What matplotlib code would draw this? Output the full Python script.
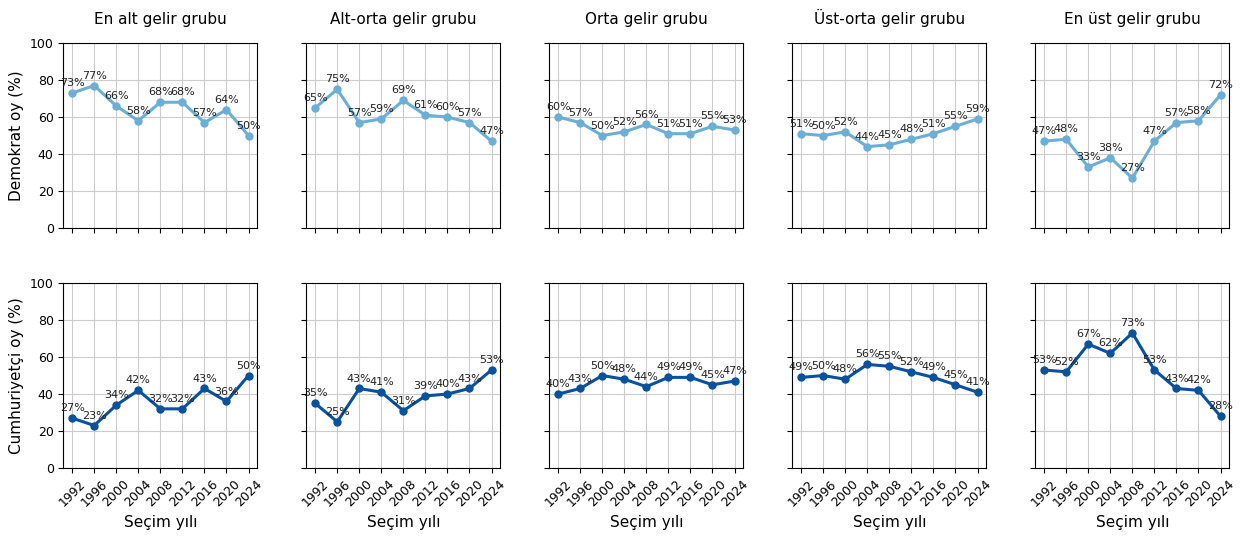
import matplotlib
matplotlib.use("Agg")
import matplotlib.pyplot as plt

# election years and income groups
years = [1992, 1996, 2000, 2004, 2008, 2012, 2016, 2020, 2024]
groups = ["En alt gelir grubu", "Alt-orta gelir grubu", "Orta gelir grubu",
          "Üst-orta gelir grubu", "En üst gelir grubu"]

# Democrat vote share (%) per group
dem_lowest = [73, 77, 66, 58, 68, 68, 57, 64, 50]
dem_lowmid = [65, 75, 57, 59, 69, 61, 60, 57, 47]
dem_mid = [60, 57, 50, 52, 56, 51, 51, 55, 53]
dem_upmid = [51, 50, 52, 44, 45, 48, 51, 55, 59]
dem_top = [47, 48, 33, 38, 27, 47, 57, 58, 72]

# Republican vote share (%) per group
rep_lowest = [27, 23, 34, 42, 32, 32, 43, 36, 50]
rep_lowmid = [35, 25, 43, 41, 31, 39, 40, 43, 53]
rep_mid = [40, 43, 50, 48, 44, 49, 49, 45, 47]
rep_upmid = [49, 50, 48, 56, 55, 52, 49, 45, 41]
rep_top = [53, 52, 67, 62, 73, 53, 43, 42, 28]

dem = [dem_lowest, dem_lowmid, dem_mid, dem_upmid, dem_top]
rep = [rep_lowest, rep_lowmid, rep_mid, rep_upmid, rep_top]

dem_color = "#6baed6"
rep_color = "#08519c"

fig, axes = plt.subplots(2, 5, figsize=(12.43, 5.38), dpi=100, sharey=True)
fig.subplots_adjust(left=0.051, right=0.989, top=0.92, bottom=0.13,
                    wspace=0.253, hspace=0.297)

for i, name in enumerate(groups):
    for row, (vals, col) in enumerate([(dem[i], dem_color), (rep[i], rep_color)]):
        ax = axes[row, i]
        ax.plot(years, vals, "-o", color=col, linewidth=2.2, markersize=5)
        for x, y in zip(years, vals):
            ax.annotate(f"{y}%", (x, y), textcoords="offset points", xytext=(0, 5),
                        ha="center", fontsize=8, color="#222222")
        ax.set_ylim(0, 100)
        ax.set_xticks(years)
        ax.grid(True, color="#cccccc", linewidth=0.8)
        if row == 0:
            ax.set_title(name, fontsize=11, pad=14)
            ax.set_xticklabels([])
        else:
            ax.set_xticklabels(years, rotation=45, fontsize=9)
            ax.set_xlabel("Seçim yılı", fontsize=11)
        ax.tick_params(axis="y", labelsize=9)

axes[0, 0].set_ylabel("Demokrat oy (%)", fontsize=11)
axes[1, 0].set_ylabel("Cumhuriyetçi oy (%)", fontsize=11)

fig.savefig("out.png", dpi=100)
